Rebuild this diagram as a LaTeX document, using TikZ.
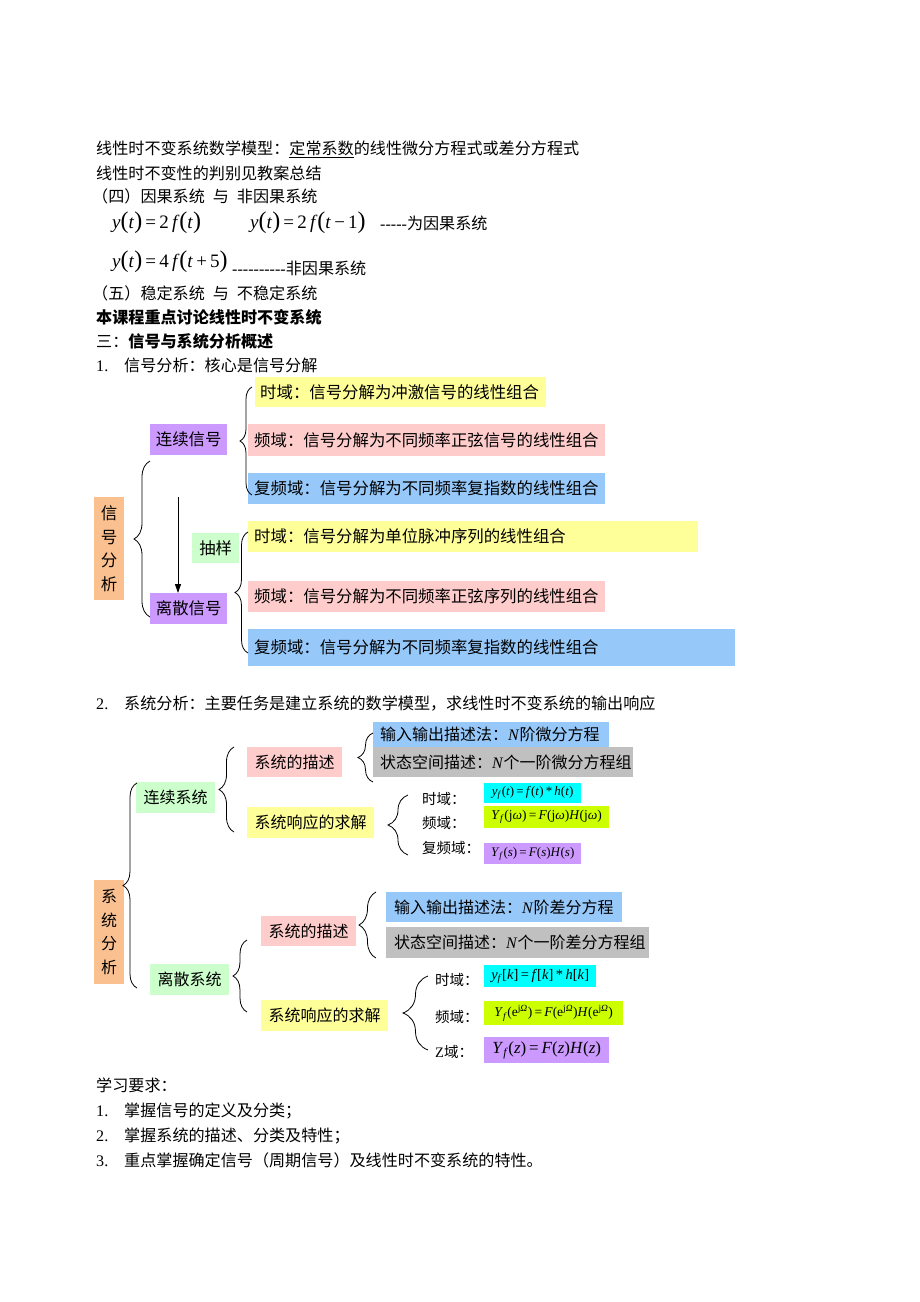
\documentclass[tikz,border=0pt]{standalone}
\usepackage{fontspec}
\setmainfont{Noto Sans CJK SC}
\newfontfamily\tms{Liberation Serif}
\usetikzlibrary{decorations.pathreplacing,arrows.meta}
\definecolor{orangeC}{RGB}{250,192,143}
\definecolor{purpleC}{RGB}{204,153,255}
\definecolor{yellowC}{RGB}{255,255,153}
\definecolor{pinkC}{RGB}{255,204,204}
\definecolor{blueC}{RGB}{150,200,250}
\definecolor{greenC}{RGB}{204,255,204}
\definecolor{grayC}{RGB}{192,192,192}
\definecolor{cyanC}{RGB}{0,255,255}
\definecolor{limeC}{RGB}{204,255,0}
\newcommand\fbody{\fontsize{16.1}{18}\selectfont}
\newcommand\fdia{\fontsize{16.4}{19}\selectfont}
\newcommand\fdib{\fontsize{16}{19}\selectfont}
\newcommand\flab{\fontsize{14.5}{16}\selectfont}
\newcommand\mi[1]{\textit{#1}}
\newcommand\bpar[1]{{\fontsize{24}{24}\selectfont(}#1{\fontsize{24}{24}\selectfont)}}
\newcommand\sbf{\textsubscript{\mi{f}}}
\newcommand\ejo{e\textsuperscript{j\mi{Ω}}}
\newcommand\gap{\hspace{8pt}}
\begin{document}
\begin{tikzpicture}[x=1pt,y=-1pt,
  txt/.style={anchor=base west, inner sep=0pt, font=\fbody},
  fml/.style={anchor=base west, inner sep=0pt, font=\tms\fontsize{19}{19}\selectfont},
  bx/.style={anchor=north west, inner xsep=0pt, inner ysep=0pt, align=center, font=\fdia},
  tb/.style={anchor=north west, inner ysep=0pt, inner xsep=6pt, align=left, font=\fdia},
  fb/.style={anchor=north west, inner xsep=0pt, inner ysep=0pt, align=center},
  lab/.style={anchor=base west, inner sep=0pt, font=\flab},
  brc/.style={decorate, decoration={brace, amplitude=#1}, line width=0.8pt},
  arr/.style={-{Triangle[length=9pt,width=6pt]}, line width=0.9pt}]
\fill[white] (0,0) rectangle (920,1302);
\useasboundingbox (0,0) rectangle (920,1302);

% ---------- top text ----------
\node[txt] (t1) at (96,154) {线性时不变系统数学模型：\underline{定常系数}的线性微分方程式或差分方程式};
\node[txt] (t2) at (96,179) {线性时不变性的判别见教案总结};
\node[txt] (t3) at (92,202) {（四）因果系统\gap 与\gap 非因果系统};
\node[fml] (f1) at (112,228) {\mi{y}\bpar{\mi{t}}\,=\,2\,\mi{f}\bpar{\mi{t}}};
\node[fml] (f2) at (250,228) {\mi{y}\bpar{\mi{t}}\,=\,2\,\mi{f}\bpar{\mi{t}\,−\,1}};
\node[txt] (t4) at (380,229) {{\tms -----}为因果系统};
\node[fml] (f3) at (112,267) {\mi{y}\bpar{\mi{t}}\,=\,4\,\mi{f}\bpar{\mi{t}\,+\,5}};
\node[txt] (t5) at (232,274) {{\tms ----------}非因果系统};
\node[txt] (t6) at (92,299) {（五）稳定系统\gap 与\gap 不稳定系统};
\node[txt] (t7) at (96,323) {\textbf{本课程重点讨论线性时不变系统}};
\node[txt] (t8) at (96,347) {三：\textbf{信号与系统分析概述}};
\node[txt] (n9) at (96,371) {\tms 1.};
\node[txt] (t9) at (124,371) {信号分析：核心是信号分解};

% ---------- diagram 1 ----------
\node[bx, fill=orangeC, minimum width=30pt, minimum height=103pt, font=\fontsize{16.5}{23.5}\selectfont] (sa) at (94,497) {信\\号\\分\\析};
\node[bx, fill=purpleC, minimum width=77pt, minimum height=31pt] (csig) at (150,424) {连续信号};
\node[bx, fill=purpleC, minimum width=77pt, minimum height=31pt] (dsig) at (150,593) {离散信号};
\node[bx, fill=greenC, minimum width=47pt, minimum height=30pt] (samp) at (192,533) {抽样};
\node[tb, fill=yellowC, text width=281pt, inner xsep=5pt, minimum height=30pt] (c1) at (255,377) {时域：信号分解为冲激信号的线性组合};
\node[tb, fill=pinkC, text width=345pt, minimum height=32pt] (c2) at (248,424) {频域：信号分解为不同频率正弦信号的线性组合};
\node[tb, fill=blueC, text width=345pt, minimum height=31pt] (c3) at (248,473) {复频域：信号分解为不同频率复指数的线性组合};
\node[tb, fill=yellowC, text width=438pt, minimum height=31pt] (d1) at (248,521) {时域：信号分解为单位脉冲序列的线性组合};
\node[tb, fill=pinkC, text width=345pt, minimum height=31pt] (d2) at (248,581) {频域：信号分解为不同频率正弦序列的线性组合};
\node[tb, fill=blueC, text width=475pt, minimum height=37pt] (d3) at (248,629) {复频域：信号分解为不同频率复指数的线性组合};
\draw[brc=16pt] (150,617) -- (150,461);
\draw[brc=12pt] (252,495) -- (252,387);
\draw[brc=13pt] (248,653) -- (248,532);
\coordinate (a0) at (178,497);
\draw[arr] (a0) -- (a0 |- dsig.north);

% ---------- section 2 heading ----------
\node[txt] (n10) at (96,709) {\tms 2.};
\node[txt] (t10) at (124,709) {系统分析：主要任务是建立系统的数学模型，求线性时不变系统的输出响应};

% ---------- diagram 2 ----------
\node[bx, fill=orangeC, minimum width=30pt, minimum height=104pt, font=\fontsize{16}{23.5}\selectfont] (sys) at (94,880) {系\\统\\分\\析};
\node[bx, fill=greenC, minimum width=79pt, minimum height=31pt, font=\fdib] (csys) at (136,782) {连续系统};
\node[bx, fill=greenC, minimum width=79pt, minimum height=31pt, font=\fdib] (dsys) at (150,964) {离散系统};
\node[bx, fill=pinkC, minimum width=95pt, minimum height=30pt, font=\fdib] (cdesc) at (247,747) {系统的描述};
\node[bx, fill=yellowC, minimum width=127pt, minimum height=31pt, font=\fdib] (csol) at (247,807) {系统响应的求解};
\node[tb, fill=blueC, text width=222pt, inner xsep=7pt, minimum height=25pt, font=\fdib] (cio) at (373,722) {输入输出描述法：{\tms\mi{N}}阶微分方程};
\node[tb, fill=grayC, text width=246pt, inner xsep=7pt, minimum height=30pt, font=\fdib] (cst) at (373,747) {状态空间描述：{\tms\mi{N}}个一阶微分方程组};
\node[lab] (cl1) at (422,804) {时域：};
\node[lab] (cl2) at (422,828) {频域：};
\node[lab] (cl3) at (422,853) {复频域：};
\node[fb, fill=cyanC, minimum width=97pt, minimum height=20pt, font=\tms\fontsize{13}{13}\selectfont] (cf1) at (484,783) {\mi{y}\sbf(\mi{t})\,=\,\mi{f}(\mi{t})\,*\,\mi{h}(\mi{t})};
\node[fb, fill=limeC, minimum width=125pt, minimum height=22pt, font=\tms\fontsize{13.5}{13.5}\selectfont] (cf2) at (484,806) {\mi{Y}\sbf(j\mi{ω})\,=\,\mi{F}(j\mi{ω})\mi{H}(j\mi{ω})};
\node[fb, fill=purpleC, minimum width=97pt, minimum height=21pt, font=\tms\fontsize{13}{13}\selectfont] (cf3) at (484,843) {\mi{Y}\sbf(\mi{s})\,=\,\mi{F}(\mi{s})\mi{H}(\mi{s})};

\node[bx, fill=pinkC, minimum width=95pt, minimum height=30pt, font=\fdib] (ddesc) at (261,916) {系统的描述};
\node[bx, fill=yellowC, minimum width=127pt, minimum height=31pt, font=\fdib] (dsol) at (261,1000) {系统响应的求解};
\node[tb, fill=blueC, text width=220pt, inner xsep=8pt, minimum height=30pt, font=\fdib] (dio) at (386,892) {输入输出描述法：{\tms\mi{N}}阶差分方程};
\node[tb, fill=grayC, text width=247pt, inner xsep=8pt, minimum height=31pt, font=\fdib] (dst) at (386,927) {状态空间描述：{\tms\mi{N}}个一阶差分方程组};
\node[lab] (dl1) at (435,985) {时域：};
\node[lab] (dl2) at (435,1022) {频域：};
\node[lab] (dl3) at (435,1057) {{\tms Z}域：};
\node[fb, fill=cyanC, minimum width=112pt, minimum height=22pt, font=\tms\fontsize{14.5}{14.5}\selectfont] (df1) at (484,965) {\mi{y}\sbf[\mi{k}]\,=\,\mi{f}[\mi{k}]\,*\,\mi{h}[\mi{k}]};
\node[fb, fill=limeC, minimum width=139pt, minimum height=24pt, font=\tms\fontsize{13.5}{13.5}\selectfont] (df2) at (484,1001) {\mi{Y}\sbf(\ejo)\,=\,\mi{F}(\ejo)\mi{H}(\ejo)};
\node[fb, fill=purpleC, minimum width=125pt, minimum height=26pt, font=\tms\fontsize{17}{17}\selectfont] (df3) at (484,1037) {\mi{Y}\sbf(\mi{z})\,=\,\mi{F}(\mi{z})\mi{H}(\mi{z})};

\draw[brc=14pt] (137,988) -- (137,783);
\draw[brc=15pt] (234,832) -- (234,747);
\draw[brc=15pt] (373,782) -- (373,733);
\draw[brc=20pt] (408,855) -- (408,795);
\draw[brc=14pt] (247,1012) -- (247,940);
\draw[brc=17pt] (376,958) -- (376,892);
\draw[brc=25pt] (428,1050) -- (428,976);

% ---------- bottom text ----------
\node[txt] (t11) at (96,1091) {学习要求：};
\node[txt] (n12) at (96,1116) {\tms 1.};
\node[txt] (t12) at (124,1116) {掌握信号的定义及分类；};
\node[txt] (n13) at (96,1141) {\tms 2.};
\node[txt] (t13) at (124,1141) {掌握系统的描述、分类及特性；};
\node[txt] (n14) at (96,1166) {\tms 3.};
\node[txt] (t14) at (124,1166) {重点掌握确定信号（周期信号）及线性时不变系统的特性。};
\end{tikzpicture}
\end{document}
